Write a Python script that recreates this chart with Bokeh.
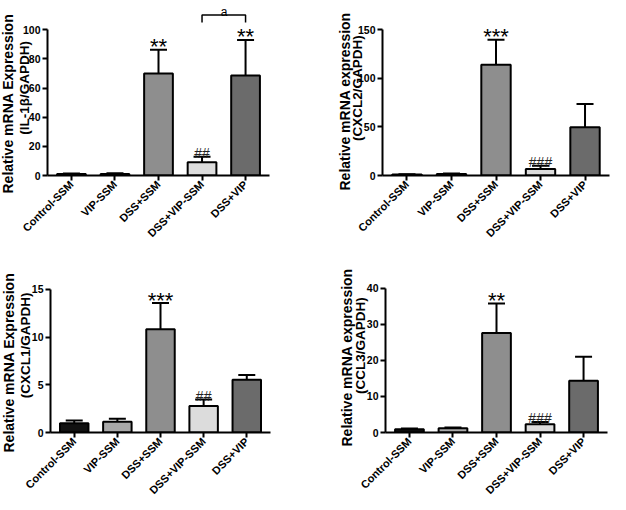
import math
from bokeh.plotting import figure
from bokeh.models import ColumnDataSource, FactorRange, Range1d, FixedTicker, Whisker, TeeHead, Title
from bokeh.layouts import column, row
from bokeh.embed import file_html
from bokeh.resources import INLINE
from bokeh.core.properties import value

groups = ["Control-SSM", "VIP-SSM", "DSS+SSM", "DSS+VIP-SSM", "DSS+VIP"]
bar_colors = ["#111111", "#a9a9a9", "#8e8e8e", "#dcdcdc", "#6b6b6b"]

# IL-1beta
il1b_mean = [1.0, 1.0, 69.9, 9.1, 68.6]
il1b_upper = [1.3, 1.6, 86.3, 12.8, 93.0]
il1b_stars = ["", "", "**", "", "**"]
il1b_hashes = ["", "", "", "##", ""]
il1b_ticks = [0, 20, 40, 60, 80, 100]

# CXCL2
cxcl2_mean = [1.0, 1.5, 113.8, 6.8, 49.5]
cxcl2_upper = [1.4, 2.1, 139.4, 9.9, 73.5]
cxcl2_stars = ["", "", "***", "", ""]
cxcl2_hashes = ["", "", "", "###", ""]
cxcl2_ticks = [0, 50, 100, 150]

# CXCL1
cxcl1_mean = [0.98, 1.12, 10.82, 2.78, 5.53]
cxcl1_upper = [1.26, 1.43, 13.57, 3.46, 6.04]
cxcl1_stars = ["", "", "***", "", ""]
cxcl1_hashes = ["", "", "", "##", ""]
cxcl1_ticks = [0, 5, 10, 15]

# CCL3
ccl3_mean = [0.9, 1.17, 27.6, 2.26, 14.36]
ccl3_upper = [1.1, 1.4, 35.8, 2.9, 21.0]
ccl3_stars = ["", "", "**", "", ""]
ccl3_hashes = ["", "", "", "###", ""]
ccl3_ticks = [0, 10, 20, 30, 40]

# significance bracket on IL-1beta panel
bracket_groups = ["DSS+VIP-SSM", "DSS+VIP"]
bracket_levels = [105.0, 110.0]
bracket_label = "a"

FONT = "Liberation Sans"


def make_panel(means, uppers, stars, hashes, ticks, label1, label2, y_end,
               fw, fh, min_left, min_right, min_bottom, lab2_standoff,
               lab1_standoff, lab1_offset):
    src = ColumnDataSource(dict(x=groups, top=means, upper=uppers,
                                color=bar_colors, stars=stars, hashes=hashes))
    p = figure(x_range=FactorRange(factors=groups, range_padding=0.02),
               y_range=Range1d(0, y_end), frame_width=fw, frame_height=fh,
               output_backend="svg", toolbar_location=None,
               min_border_left=min_left, min_border_right=min_right,
               min_border_top=0, min_border_bottom=min_bottom)
    p.outline_line_color = None
    p.grid.visible = False
    p.background_fill_color = "white"
    p.border_fill_color = "white"

    p.vbar(x="x", top="top", width=0.66, source=src, fill_color="color",
           line_color="black", line_width=2)
    w = Whisker(source=src, base="x", upper="upper", lower="top",
                line_color="black", line_width=2, lower_head=None,
                upper_head=TeeHead(size=17, line_color="black", line_width=2))
    p.add_layout(w)

    p.text(x="x", y="upper", text="stars", source=src, text_align="center",
           text_baseline="alphabetic", y_offset=-3,
           text_font=value(FONT), text_font_size="22px", text_color="black")
    p.text(x="x", y="upper", text="hashes", source=src, text_align="center",
           text_baseline="alphabetic", y_offset=-4,
           text_font=value(FONT), text_font_size="14px", text_color="#222222")

    xa = p.xaxis[0]
    xa.major_label_orientation = math.pi / 4
    xa.major_label_text_font = FONT
    xa.major_label_text_font_style = "bold"
    xa.major_label_text_font_size = "11px"
    xa.major_label_text_color = "black"
    xa.major_label_standoff = 2
    xa.axis_line_width = 2
    xa.major_tick_line_width = 2
    xa.major_tick_out = 5
    xa.major_tick_in = 0
    xa.minor_tick_line_color = None

    ya = p.yaxis[0]
    ya.ticker = FixedTicker(ticks=ticks)
    ya.bounds = (0, ticks[-1])
    ya.axis_line_width = 2
    ya.major_tick_line_width = 2
    ya.major_tick_out = 5
    ya.major_tick_in = 0
    ya.minor_tick_line_color = None
    ya.major_label_text_font = FONT
    ya.major_label_text_font_style = "bold"
    ya.major_label_text_font_size = "10.5px"
    ya.major_label_text_color = "black"
    ya.major_label_standoff = 2
    ya.axis_label = label2
    ya.axis_label_text_font = FONT
    ya.axis_label_text_font_style = "bold"
    ya.axis_label_text_font_size = "13.5px"
    ya.axis_label_text_color = "black"
    ya.axis_label_standoff = lab2_standoff

    p.add_layout(Title(text=label1, align="left", vertical_align="middle",
                       offset=lab1_offset, standoff=lab1_standoff,
                       text_font=FONT, text_font_style="bold",
                       text_font_size="14px", text_color="black"), "left")
    return p


p1 = make_panel(il1b_mean, il1b_upper, il1b_stars, il1b_hashes, il1b_ticks,
                "Relative mRNA Expression", "(IL-1\u03b2/GAPDH)", 120,
                222, 175, 47, 36, 83, -12, -6, -18)
p1.multi_line(xs=[[bracket_groups[0], bracket_groups[0], bracket_groups[1], bracket_groups[1]]],
              ys=[[bracket_levels[0], bracket_levels[1], bracket_levels[1], bracket_levels[0]]],
              line_color="black", line_width=1.5)
p1.text(x=[bracket_groups[0]], y=[bracket_levels[1]], text=[bracket_label],
        x_offset=22, y_offset=-3, text_align="center", text_baseline="alphabetic",
        text_font=value(FONT), text_font_size="12px", text_color="black")

p2 = make_panel(cxcl2_mean, cxcl2_upper, cxcl2_stars, cxcl2_hashes, cxcl2_ticks,
                "Relative mRNA expression", "(CXCL2/GAPDH)", 179.8,
                227, 175, 77, 1, 83, -10, -14, -15)
p3 = make_panel(cxcl1_mean, cxcl1_upper, cxcl1_stars, cxcl1_hashes, cxcl1_ticks,
                "Relative mRNA Expression", "(CXCL1/GAPDH)", 18.25,
                220, 174, 50, 35, 62, -4, -6, -20)
p4 = make_panel(ccl3_mean, ccl3_upper, ccl3_stars, ccl3_hashes, ccl3_ticks,
                "Relative mRNA expression", "(CCL3/GAPDH)", 48.3,
                222, 174, 80, 3, 62, -4, -12, -14)

layout = column(row(p1, p2), row(p3, p4))

with open("out.html", "w") as f:
    f.write(file_html(layout, INLINE))
